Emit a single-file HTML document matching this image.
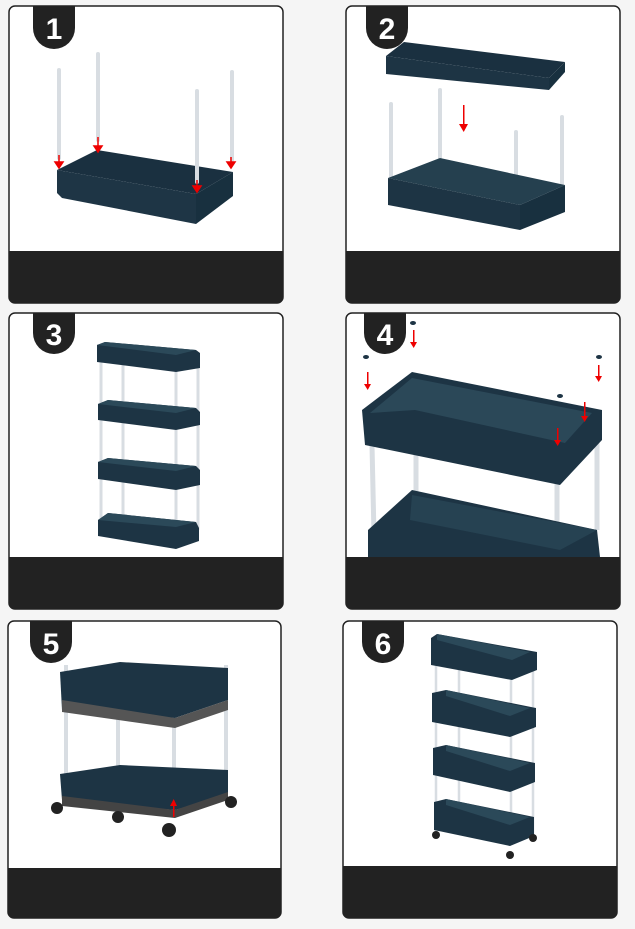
<!DOCTYPE html>
<html><head><style>
html,body{margin:0;padding:0;background:#f5f5f5;}
svg{display:block;}
text{font-family:"Liberation Sans",sans-serif;font-weight:bold;fill:#fff;}
</style></head><body>
<svg width="635" height="929" viewBox="0 0 635 929" xmlns="http://www.w3.org/2000/svg">
<rect width="635" height="929" fill="#f5f5f5"/>

<g stroke="#222" stroke-width="1.5">
 <rect x="9" y="6" width="274" height="297" rx="6" fill="#fff"/>
 <rect x="346" y="6" width="274" height="297" rx="6" fill="#fff"/>
 <rect x="9" y="313" width="274" height="296" rx="6" fill="#fff"/>
 <rect x="346" y="313" width="274" height="296" rx="6" fill="#fff"/>
 <rect x="8" y="621" width="273" height="297" rx="6" fill="#fff"/>
 <rect x="343" y="621" width="274" height="297" rx="6" fill="#fff"/>
</g>
<g fill="#222">
 <path d="M9,251 H283 V297 a6,6 0 0 1 -6,6 H15 a6,6 0 0 1 -6,-6Z"/>
 <path d="M346,251 H620 V297 a6,6 0 0 1 -6,6 H352 a6,6 0 0 1 -6,-6Z"/>
 <path d="M9,557 H283 V603 a6,6 0 0 1 -6,6 H15 a6,6 0 0 1 -6,-6Z"/>
 <path d="M346,557 H620 V603 a6,6 0 0 1 -6,6 H352 a6,6 0 0 1 -6,-6Z"/>
 <path d="M8,868 H281 V912 a6,6 0 0 1 -6,6 H14 a6,6 0 0 1 -6,-6Z"/>
 <path d="M343,866 H617 V912 a6,6 0 0 1 -6,6 H349 a6,6 0 0 1 -6,-6Z"/>
</g>
<g fill="#222">
 <path d="M33,6 H75 V28 a21,21 0 0 1 -42,0Z"/>
 <path d="M366,6 H408 V28 a21,21 0 0 1 -42,0Z"/>
 <path d="M33,313 H75 V333 a21,21 0 0 1 -42,0Z"/>
 <path d="M364,313 H406 V333 a21,21 0 0 1 -42,0Z"/>
 <path d="M30,621 H72 V642 a21,21 0 0 1 -42,0Z"/>
 <path d="M362,621 H404 V642 a21,21 0 0 1 -42,0Z"/>
</g>
<g font-size="30" text-anchor="middle">
 <text x="54" y="39">1</text>
 <text x="387" y="39">2</text>
 <text x="54" y="345">3</text>
 <text x="385" y="345">4</text>
 <text x="51" y="654">5</text>
 <text x="383" y="654">6</text>
</g>

<!-- Panel 1 -->
<polygon points="57,170 97,150 233,172 196,194" fill="#1a3040"/>
<polygon points="57,170 196,194 196,224 62,198 57,193" fill="#1e3545"/>
<polygon points="196,194 233,172 233,196 196,224" fill="#18303f"/>
<g stroke="#d8dde2" stroke-width="4" stroke-linecap="round">
 <line x1="59" y1="70" x2="59" y2="158"/>
 <line x1="98" y1="54" x2="98" y2="140"/>
 <line x1="197" y1="91" x2="197" y2="182"/>
 <line x1="232" y1="72" x2="232" y2="160"/>
</g>
<g stroke="#e00" stroke-width="1.5" fill="#e00">
 <line x1="59" y1="155" x2="59" y2="164"/><polygon points="55,162 63,162 59,168"/>
 <line x1="98" y1="137" x2="98" y2="148"/><polygon points="94,146 102,146 98,152"/>
 <line x1="197" y1="180" x2="197" y2="188"/><polygon points="193,186 201,186 197,192"/>
 <line x1="231" y1="157" x2="231" y2="164"/><polygon points="227,162 235,162 231,168"/>
</g>

<!-- Panel 2 -->
<polygon points="386,56 404,42 565,62 549,78" fill="#1a3040"/>
<polygon points="386,56 549,78 549,90 386,74" fill="#1d3444"/>
<polygon points="549,78 565,62 565,72 549,90" fill="#18303f"/>
<g stroke="#d8dde2" stroke-width="4" stroke-linecap="round">
 <line x1="391" y1="104" x2="391" y2="180"/>
 <line x1="440" y1="90" x2="440" y2="160"/>
 <line x1="516" y1="132" x2="516" y2="205"/>
 <line x1="562" y1="117" x2="562" y2="185"/>
</g>
<polygon points="388,178 440,158 565,185 520,205" fill="#25404f"/>
<polygon points="388,178 520,205 520,230 388,205" fill="#1d3444"/>
<polygon points="520,205 565,185 565,212 520,230" fill="#18303f"/>
<g fill="#e00"><rect x="463" y="105" width="1.5" height="22"/><polygon points="459,124 468,124 463.7,132"/></g>

<!-- Panel 3 -->
<g stroke="#d8dde2" stroke-width="3">
 <line x1="101" y1="360" x2="101" y2="530"/><line x1="123" y1="360" x2="123" y2="520"/>
 <line x1="176" y1="360" x2="176" y2="520"/><line x1="198" y1="360" x2="198" y2="530"/>
</g>
<g fill="#1d3444">
 <polygon points="97,345 105,342 196,350 200,353 200,368 176,372 97,362"/>
 <polygon points="98,404 108,400 196,408 200,412 200,425 176,430 98,420"/>
 <polygon points="98,462 108,458 196,466 200,470 200,485 176,490 98,479"/>
 <polygon points="98,520 108,513 196,522 199,528 199,541 176,549 98,536"/>
</g>
<g fill="#2b4959">
 <polygon points="97,345 105,342 196,350 176,355"/>
 <polygon points="98,404 108,400 196,408 176,413"/>
 <polygon points="98,462 108,458 196,466 176,471"/>
 <polygon points="98,520 108,513 196,522 176,527"/>
</g>

<!-- Panel 4 -->
<g stroke="#d8dde2" stroke-width="5">
 <line x1="372" y1="445" x2="374" y2="535"/><line x1="416" y1="455" x2="416" y2="495"/>
 <line x1="557" y1="460" x2="557" y2="557"/><line x1="597" y1="440" x2="597" y2="530"/>
</g>
<polygon points="368,530 412,490 597,530 600,557 368,557" fill="#1d3444"/>
<polygon points="412,495 597,530 560,550 410,520" fill="#264252"/>
<polygon points="362,410 412,372 602,410 602,440 560,485 365,445" fill="#1d3444"/>
<polygon points="370,413 412,378 592,413 565,443 415,410" fill="#2b4858"/>
<g fill="#e00">
 <rect x="413" y="330" width="1.5" height="14"/><polygon points="410,342 417,342 413.7,348"/>
 <rect x="367" y="372" width="1.5" height="14"/><polygon points="364,384 371,384 367.7,390"/>
 <rect x="598" y="365" width="1.5" height="12"/><polygon points="595,376 602,376 598.7,382"/>
 <rect x="584" y="402" width="1.5" height="16"/><polygon points="581,416 588,416 584.7,422"/>
 <rect x="557" y="428" width="1.5" height="14"/><polygon points="554,440 561,440 557.7,446"/>
</g>
<g fill="#1d3444"><ellipse cx="413" cy="323" rx="3" ry="2"/><ellipse cx="366" cy="357" rx="3" ry="2"/><ellipse cx="599" cy="357" rx="3" ry="2"/><ellipse cx="560" cy="396" rx="3" ry="2"/></g>

<!-- Panel 5 -->
<g stroke="#d8dde2" stroke-width="4">
 <line x1="66" y1="665" x2="66" y2="775"/><line x1="118" y1="680" x2="118" y2="770"/>
 <line x1="174" y1="680" x2="174" y2="790"/><line x1="226" y1="665" x2="226" y2="770"/>
</g>
<polygon points="60,672 120,662 228,668 228,700 175,718 62,710" fill="#1d3444"/>
<polygon points="62,700 175,718 228,700 228,710 175,728 62,712" fill="#555"/>
<polygon points="60,774 120,765 228,770 228,795 175,810 62,800" fill="#1d3444"/>
<polygon points="62,796 175,810 228,792 228,800 175,818 62,806" fill="#444"/>
<g fill="#222"><circle cx="57" cy="808" r="6"/><circle cx="118" cy="817" r="6"/><circle cx="169" cy="830" r="7"/><circle cx="231" cy="802" r="6"/></g>
<g fill="#e00"><rect x="173" y="803" width="1.5" height="14"/><polygon points="170,806 177,806 173.7,799"/></g>

<!-- Panel 6 -->
<g stroke="#d8dde2" stroke-width="2.5">
 <line x1="436" y1="660" x2="436" y2="835"/><line x1="459" y1="660" x2="459" y2="820"/>
 <line x1="511" y1="660" x2="511" y2="840"/><line x1="533" y1="660" x2="533" y2="835"/>
</g>
<g fill="#1d3444">
 <polygon points="431,638 437,634 537,652 537,670 512,680 431,665"/>
 <polygon points="432,693 446,690 536,708 536,727 510,737 432,722"/>
 <polygon points="433,748 446,745 535,763 535,782 510,792 433,775"/>
 <polygon points="434,802 446,799 534,817 534,836 510,846 434,830"/>
</g>
<g fill="#2b4959">
 <polygon points="437,640 437,634 530,652 512,660"/>
 <polygon points="446,696 446,690 530,708 510,716"/>
 <polygon points="446,751 446,745 530,763 510,771"/>
 <polygon points="446,805 446,799 530,817 510,825"/>
</g>
<g fill="#222"><circle cx="436" cy="835" r="4"/><circle cx="533" cy="838" r="4"/><circle cx="510" cy="855" r="4"/></g>
</svg>
</body></html>
